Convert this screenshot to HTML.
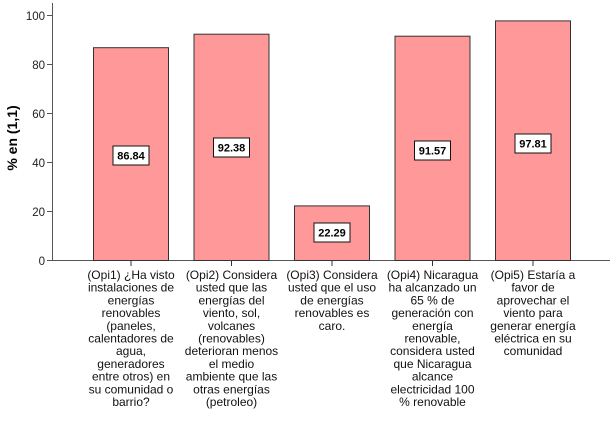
<!DOCTYPE html>
<html><head><style>
body{margin:0;background:#fff}
svg{display:block}
text{font-family:"Liberation Sans",sans-serif}
.t{font-size:11.5px;fill:#222}
.c{font-size:12px;fill:#111;text-anchor:middle}
.v{font-family:"Liberation Mono",monospace;font-weight:bold;font-size:11px;text-anchor:middle}
</style></head><body>
<svg width="614" height="427" viewBox="0 0 614 427">
<rect width="614" height="427" fill="#fff"/>
<g stroke="#555" stroke-width="1">
<line x1="52.5" y1="3" x2="52.5" y2="261"/>
<line x1="52" y1="260.5" x2="610" y2="260.5"/>
<line x1="47" y1="260.5" x2="52" y2="260.5"/>
<line x1="47" y1="211.5" x2="52" y2="211.5"/>
<line x1="47" y1="162.5" x2="52" y2="162.5"/>
<line x1="47" y1="113.5" x2="52" y2="113.5"/>
<line x1="47" y1="64.5" x2="52" y2="64.5"/>
<line x1="47" y1="15.5" x2="52" y2="15.5"/>
</g>
<g class="t" text-anchor="end">
<text x="45" y="265">0</text>
<text x="45" y="216">20</text>
<text x="45" y="167">40</text>
<text x="45" y="118">60</text>
<text x="45" y="69">80</text>
<text x="45" y="20">100</text>
</g>
<text transform="translate(17,138) rotate(-90)" text-anchor="middle" style="font-size:14px;font-weight:bold">% en (1,1)</text>
<g fill="#ff9999" stroke="#333" stroke-width="1">
<rect x="93.5" y="47.7" width="75" height="212.8"/>
<rect x="194" y="34.2" width="75" height="226.3"/>
<rect x="294.5" y="205.9" width="75" height="54.6"/>
<rect x="395" y="36.2" width="75" height="224.3"/>
<rect x="495.5" y="20.9" width="75" height="239.6"/>
</g>
<g stroke="#333" stroke-width="1">
<line x1="131" y1="261" x2="131" y2="266"/>
<line x1="231.5" y1="261" x2="231.5" y2="266"/>
<line x1="332" y1="261" x2="332" y2="266"/>
<line x1="432.5" y1="261" x2="432.5" y2="266"/>
<line x1="533" y1="261" x2="533" y2="266"/>
</g>
<g fill="#fff" stroke="#111" stroke-width="1">
<rect x="113" y="146" width="36" height="19"/>
<rect x="213.5" y="138" width="36" height="19"/>
<rect x="314" y="223" width="36" height="19"/>
<rect x="414.5" y="141" width="36" height="19"/>
<rect x="515" y="134" width="36" height="19"/>
</g>
<g class="v">
<text x="131" y="159.5">86.84</text>
<text x="231.5" y="151.5">92.38</text>
<text x="332" y="236.5">22.29</text>
<text x="432.5" y="154.5">91.57</text>
<text x="533" y="147.5">97.81</text>
</g>
<g class="c">
<text x="131" y="279">(Opi1) ¿Ha visto</text>
<text x="131" y="291.7">instalaciones de</text>
<text x="131" y="304.4">energías</text>
<text x="131" y="317.1">renovables</text>
<text x="131" y="329.8">(paneles,</text>
<text x="131" y="342.5">calentadores de</text>
<text x="131" y="355.2">agua,</text>
<text x="131" y="367.9">generadores</text>
<text x="131" y="380.6">entre otros) en</text>
<text x="131" y="393.3">su comunidad o</text>
<text x="131" y="406">barrio?</text>

<text x="231.5" y="279">(Opi2) Considera</text>
<text x="231.5" y="291.7">usted que las</text>
<text x="231.5" y="304.4">energías del</text>
<text x="231.5" y="317.1">viento, sol,</text>
<text x="231.5" y="329.8">volcanes</text>
<text x="231.5" y="342.5">(renovables)</text>
<text x="231.5" y="355.2">deterioran menos</text>
<text x="231.5" y="367.9">el medio</text>
<text x="231.5" y="380.6">ambiente que las</text>
<text x="231.5" y="393.3">otras energías</text>
<text x="231.5" y="406">(petroleo)</text>

<text x="332" y="279">(Opi3) Considera</text>
<text x="332" y="291.7">usted que el uso</text>
<text x="332" y="304.4">de energías</text>
<text x="332" y="317.1">renovables es</text>
<text x="332" y="329.8">caro.</text>

<text x="432.5" y="279">(Opi4) Nicaragua</text>
<text x="432.5" y="291.7">ha alcanzado un</text>
<text x="432.5" y="304.4">65 % de</text>
<text x="432.5" y="317.1">generación con</text>
<text x="432.5" y="329.8">energía</text>
<text x="432.5" y="342.5">renovable,</text>
<text x="432.5" y="355.2">considera usted</text>
<text x="432.5" y="367.9">que Nicaragua</text>
<text x="432.5" y="380.6">alcance</text>
<text x="432.5" y="393.3">electricidad 100</text>
<text x="432.5" y="406">% renovable</text>

<text x="533" y="279">(Opi5) Estaría a</text>
<text x="533" y="291.7">favor de</text>
<text x="533" y="304.4">aprovechar el</text>
<text x="533" y="317.1">viento para</text>
<text x="533" y="329.8">generar energía</text>
<text x="533" y="342.5">eléctrica en su</text>
<text x="533" y="355.2">comunidad</text>
</g>
</svg>
</body></html>
